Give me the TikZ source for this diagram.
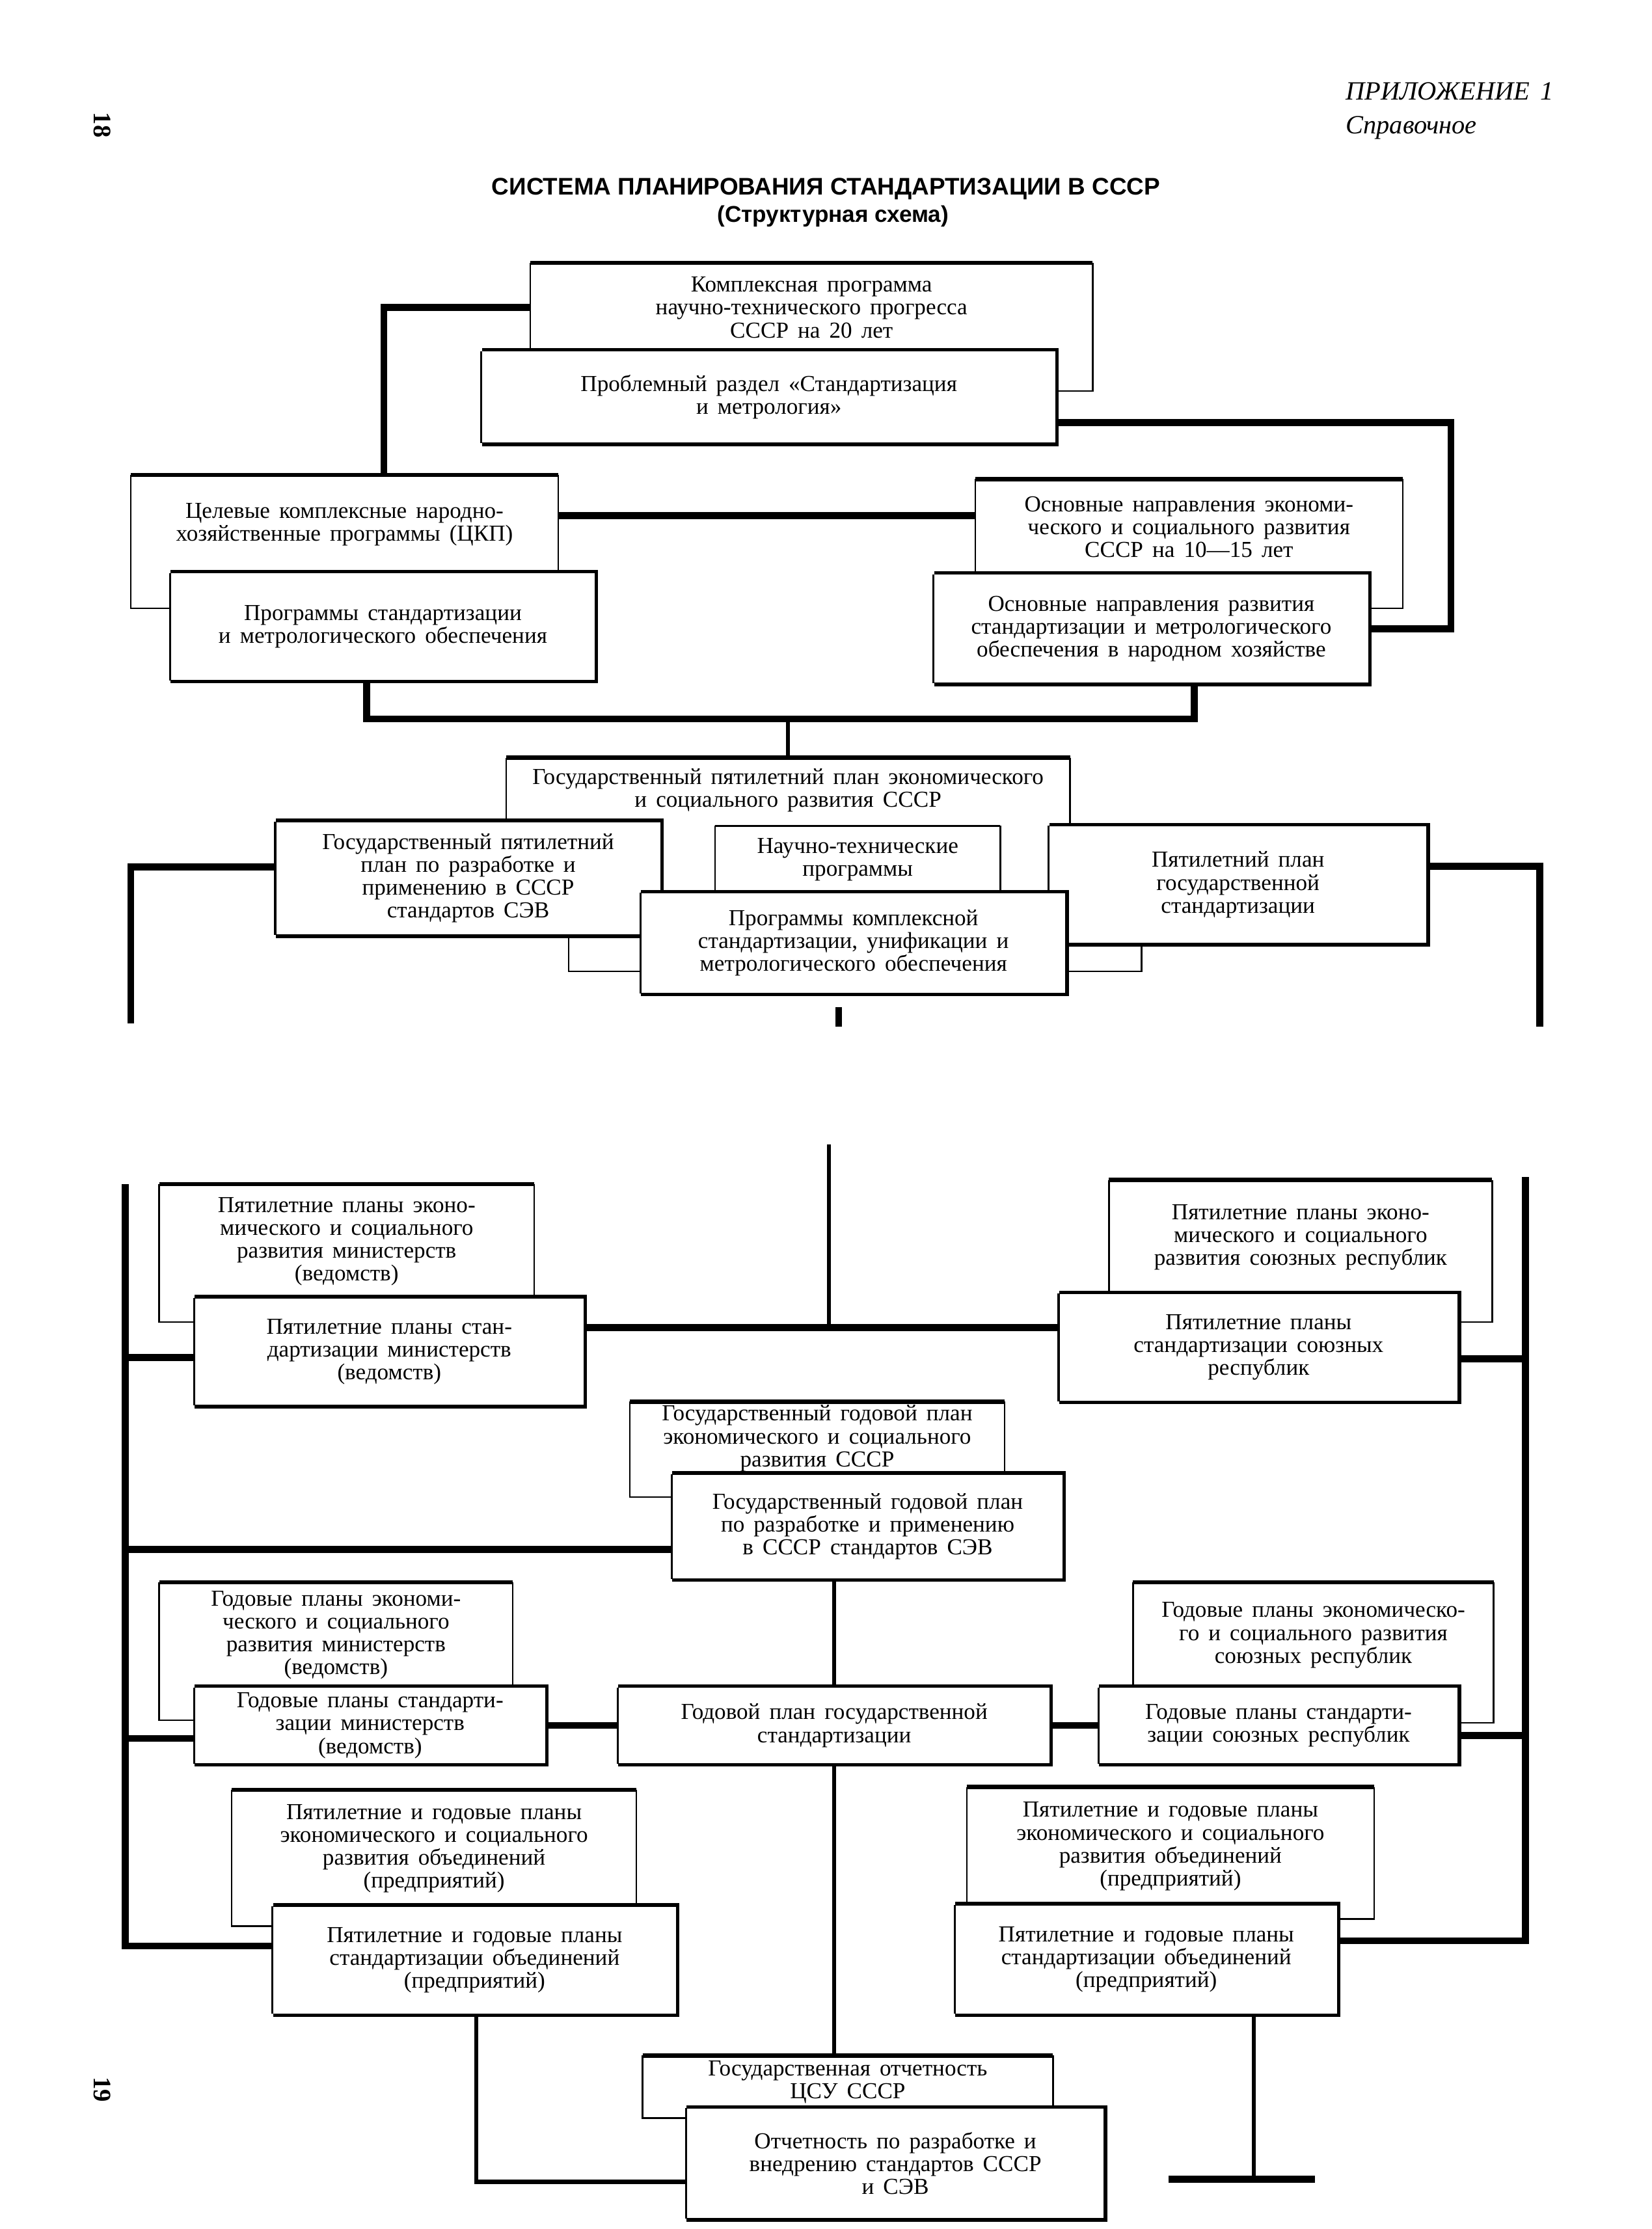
\documentclass[tikz,border=0pt]{standalone}
\usepackage{fontspec}
\setmainfont{Liberation Serif}[WordSpace=1.6]
\setsansfont{Liberation Sans}
\usetikzlibrary{calc}
\newcommand\gridu{0.02185cm}
\newcommand\boxfont{\fontsize{10}{10}\selectfont}

\begin{document}
\begin{tikzpicture}[
  x=\gridu, y=-\gridu,
  rim/.style={line width=2.6pt, line cap=square},
  rimleft/.style={line width=1.4pt},
  backtop/.style={line width=1.8pt},
  fine/.style={line width=0.7pt},
  link/.style={line width=3pt},
  stem/.style={line width=1.8pt},
  box/.style 2 args={anchor=north west, align=center, inner sep=0.5pt,
    minimum width=#1*\gridu, minimum height=#2*\gridu, font=\boxfont},
  backbox/.style 2 args={box={#1}{#2}},
  frontbox/.style 2 args={box={#1}{#2}, fill=white,
    append after command={\pgfextra{
      \draw[rim] (\tikzlastnode.north west) -- (\tikzlastnode.north east)
        -- (\tikzlastnode.south east) -- (\tikzlastnode.south west);
      \draw[rimleft] (\tikzlastnode.north west) -- (\tikzlastnode.south west);}}},
]
  \path[fill=white, use as bounding box] (0,0) rectangle (1162,1568);

  \node[rotate=-90, font=\fontsize{11}{11}\selectfont\bfseries] (pgA) at (72,88) {18};
  \node[rotate=-90, font=\fontsize{11}{11}\selectfont\bfseries] (pgB) at (72,1470) {19};
  \node[anchor=west, font=\fontsize{11.5}{12}\selectfont\itshape] (appx) at (941,64) {ПРИЛОЖЕНИЕ 1};
  \node[anchor=west, font=\fontsize{11.5}{12}\selectfont\itshape] (refd) at (941,90) {Справочное};
  \node[font=\fontsize{10.5}{11}\selectfont\sffamily\bfseries] (ttl) at (581,133) {СИСТЕМА ПЛАНИРОВАНИЯ СТАНДАРТИЗАЦИИ В СССР};
  \node[font=\fontsize{10}{11}\selectfont\sffamily\bfseries] (sub) at (586,152) {(Структурная схема)};

  \node[backbox={395}{62}] (ecA) at (373,185) {Комплексная программа\\научно-технического прогресса\\СССР на 20 лет};
  \node[frontbox={403}{64}] (prob) at (339,247) {Проблемный раздел «Стандартизация\\и метрология»};
  \node[backbox={300}{69}] (ecC) at (92,334) {Целевые комплексные народно-\\хозяйственные программы (ЦКП)};
  \node[frontbox={298}{75}] (stdD) at (120,403) {Программы стандартизации\\и метрологического обеспечения};
  \node[backbox={300}{67}] (ecE) at (686,337) {Основные направления экономи-\\ческого и социального развития\\СССР на 10—15 лет};
  \node[frontbox={305}{76}] (stdF) at (657,404) {Основные направления развития\\стандартизации и метрологического\\обеспечения в народном хозяйстве};
  \node[backbox={396}{45}] (ecG) at (356,533) {Государственный пятилетний план экономического\\и социального развития СССР};
  \node[frontbox={270}{79}] (planH) at (194,578) {Государственный пятилетний\\план по разработке и\\применению в СССР\\стандартов СЭВ};
  \node[backbox={200}{47}] (progI) at (503,581) {Научно-технические\\программы};
  \node[frontbox={265}{82}] (planJ) at (738,581) {Пятилетний план\\государственной\\стандартизации};
  \node[frontbox={298}{70}] (progK) at (451,628) {Программы комплексной\\стандартизации, унификации и\\метрологического обеспечения};

  \node[backbox={263}{80}] (ecL) at (112,833) {Пятилетние планы эконо-\\мического и социального\\развития министерств\\(ведомств)};
  \node[frontbox={273}{75}] (stdM) at (137,913) {Пятилетние планы стан-\\дартизации министерств\\(ведомств)};
  \node[backbox={269}{80}] (ecN) at (780,830) {Пятилетние планы эконо-\\мического и социального\\развития союзных республик};
  \node[frontbox={280}{75}] (stdO) at (745,910) {Пятилетние планы\\стандартизации союзных\\республик};
  \node[backbox={263}{51}] (ecP) at (443,986) {Государственный годовой план\\экономического и социального\\развития СССР};
  \node[frontbox={274}{73}] (stdQ) at (473,1037) {Государственный годовой план\\по разработке и применению\\в СССР стандартов СЭВ};
  \node[backbox={248}{74}] (ecS) at (112,1113) {Годовые планы экономи-\\ческого и социального\\развития министерств\\(ведомств)};
  \node[frontbox={246}{53}] (stdT) at (137,1187) {Годовые планы стандарти-\\зации министерств\\(ведомств)};
  \node[frontbox={303}{53}] (stdR) at (435,1187) {Годовой план государственной\\стандартизации};
  \node[backbox={253}{74}] (ecU) at (797,1113) {Годовые планы экономическо-\\го и социального развития\\союзных республик};
  \node[frontbox={252}{53}] (stdV) at (773,1187) {Годовые планы стандарти-\\зации союзных республик};
  \node[backbox={284}{82}] (ecX) at (163,1259) {Пятилетние и годовые планы\\экономического и социального\\развития объединений\\(предприятий)};
  \node[frontbox={283}{75}] (stdY) at (192,1341) {Пятилетние и годовые планы\\стандартизации объединений\\(предприятий)};
  \node[backbox={286}{83}] (ecZ) at (680,1257) {Пятилетние и годовые планы\\экономического и социального\\развития объединений\\(предприятий)};
  \node[frontbox={268}{76}] (stdAA) at (672,1340) {Пятилетние и годовые планы\\стандартизации объединений\\(предприятий)};
  \node[backbox={288}{37}] (ecW) at (452,1446) {Государственная отчетность\\ЦСУ СССР};
  \node[frontbox={293}{77}] (repWW) at (483,1483) {Отчетность по разработке и\\внедрению стандартов СССР\\и СЭВ};

  \foreach \b/\f/\s in {ecA/prob/275, ecE/stdF/428, ecN/stdO/930, ecU/stdV/1212, ecZ/stdAA/1350} {
    \draw[backtop] (\b.north west) -- (\b.north east);
    \draw[fine] (\b.north west) -- (\b.north west |- \f.north);
    \draw[fine] (\b.north east) |- (\f.east |- 0,\s);
  }
  \foreach \b/\f/\s in {ecC/stdD/428, ecL/stdM/930, ecP/stdQ/1053, ecS/stdT/1210, ecX/stdY/1355, ecW/repWW/1490} {
    \draw[backtop] (\b.north west) -- (\b.north east);
    \draw[fine] (\b.north east) -- (\b.north east |- \f.north);
    \draw[fine] (\b.north west) |- (\f.west |- 0,\s);
  }
  \draw[backtop] (ecG.north west) -- (ecG.north east);
  \draw[fine] (ecG.north west) -- (ecG.north west |- planH.north);
  \draw[fine] (ecG.north east) -- (ecG.north east |- planJ.north);
  \draw[fine] (progI.north west) -- (progI.north east);
  \draw[fine] (progI.north west) -- (progI.north west |- progK.north);
  \draw[fine] (progI.north east) -- (progI.north east |- progK.north);

  \coordinate (cutL1) at (92,720);
  \coordinate (cutR1) at (1083,722);
  \coordinate (cutM1) at (590,722);
  \coordinate (cutM2) at (583,805);
  \coordinate (cutL2) at (88,833);
  \coordinate (cutR2) at (1073,828);
  \coordinate (footR) at (822,1533);

  \draw[link] (ecA.west) -| ($(ecC.north west)+(178,0)$);
  \draw[link] ($(prob.east)+(0,18)$) -- ++(278,0) |- (stdF.east);
  \draw[link] ($(ecC.east)+(0,-6)$) -- ($(ecE.west)+(0,-8)$);
  \draw[link] ($(stdD.south west)+(138,0)$) |- ($(stdF.south west)+(183,25)$) -- ($(stdF.south west)+(183,0)$);
  \draw[stem] (ecG.north) -- ++(0,-28);
  \draw[link] ($(planH.west)+(0,-8)$) -| (cutL1);
  \draw[link] ($(planJ.east)+(0,-13)$) -| (cutR1);
  \draw[fine] ($(planH.south west)+(206,0)$) |- ($(progK.west)+(0,20)$);
  \draw[fine] ($(planJ.south west)+(65,0)$) |- ($(progK.east)+(0,20)$);
  \draw[link] ($(progK.south -| cutM1)+(0,10)$) -- (cutM1);

  \draw[stem] (cutM2) -- ($(cutM2 |- stdM.east)+(0,-17)$);
  \draw[link] ($(stdM.east)+(0,-17)$) -- ($(stdO.west)+(0,-14)$);
  \draw[link] (cutL2) |- ($(stdY.west)+(0,-10)$);
  \draw[link] ($(stdM.west)+(0,4)$) -- ($(stdM.west -| cutL2)+(0,4)$);
  \draw[link] ($(stdQ.west)+(0,16)$) -- ($(stdQ.west -| cutL2)+(0,16)$);
  \draw[link] ($(stdT.west)+(0,9)$) -- ($(stdT.west -| cutL2)+(0,9)$);
  \draw[link] (cutR2) |- ($(stdAA.east)+(0,-13)$);
  \draw[link] ($(stdO.east)+(0,8)$) -- ($(stdO.east -| cutR2)+(0,8)$);
  \draw[link] ($(stdV.east)+(0,7)$) -- ($(stdV.east -| cutR2)+(0,7)$);
  \draw[stem] (stdQ.south -| stdR.north) -- (stdR.north);
  \draw[link] (stdT.east) -- (stdR.west);
  \draw[link] (stdR.east) -- (stdV.west);
  \draw[stem] (stdR.south) -- (stdR.south |- ecW.north);
  \draw[stem] ($(stdY.south west)+(143,0)$) |- ($(repWW.west)+(0,13)$);
  \draw[stem] ($(stdAA.south west)+(210,0)$) |- (footR);
  \draw[link] (footR) -- ++(103,0);
\end{tikzpicture}
\end{document}
